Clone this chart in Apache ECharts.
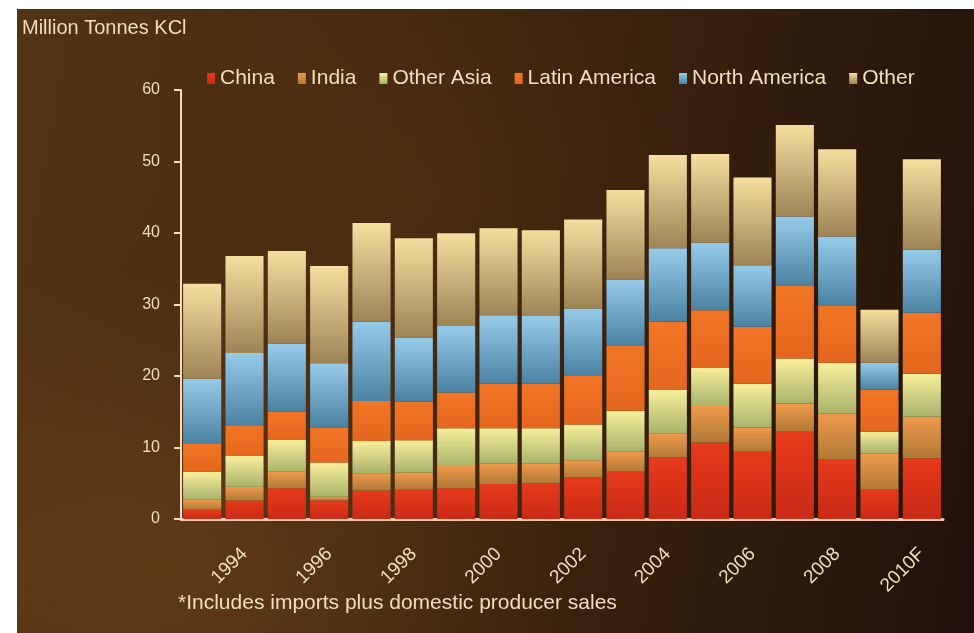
<!DOCTYPE html>
<html><head><meta charset="utf-8">
<script src="https://cdn.jsdelivr.net/npm/echarts@6/dist/echarts.min.js"></script>
<style>
html,body{margin:0;padding:0;background:#ffffff;width:974px;height:633px;overflow:hidden;}
#bg{position:absolute;left:17px;top:9px;width:957px;height:624px;
background:
 radial-gradient(ellipse 420px 300px at 15% 90%, rgba(110,70,28,0.55), rgba(110,70,28,0) 100%),
 radial-gradient(ellipse 300px 220px at 40% 30%, rgba(90,55,22,0.35), rgba(90,55,22,0) 100%),
 linear-gradient(100deg, #533315 0%, #472a11 35%, #36200d 65%, #21110a 100%);}
#chart{position:absolute;left:0;top:0;width:974px;height:633px;}
</style></head><body>
<div id="bg"></div><div id="chart"></div>
<script>
const categories = ['1993','1994','1995','1996','1997','1998','1999','2000','2001','2002','2003','2004','2005','2006','2007','2008','2009','2010F'];
const china      = [1.3, 2.6, 4.3, 2.6, 4.0, 4.1, 4.3, 4.9, 5.0, 5.8, 6.6, 8.6, 10.7, 9.4, 12.2, 8.4, 4.1, 8.5];
const india      = [1.4, 1.9, 2.3, 0.5, 2.4, 2.4, 3.25, 2.9, 2.8, 2.4, 2.8, 3.4, 5.1, 3.4, 3.95, 6.4, 5.1, 5.8];
const otherAsia  = [3.9, 4.3, 4.45, 4.8, 4.5, 4.5, 5.15, 4.9, 4.9, 5.0, 5.75, 6.05, 5.4, 6.1, 6.3, 7.05, 3.0, 6.0];
const latinAm    = [4.0, 4.3, 3.95, 4.9, 5.6, 5.4, 5.0, 6.2, 6.2, 6.9, 9.05, 9.55, 8.0, 8.0, 10.25, 8.05, 5.9, 8.55];
const northAm    = [9.0, 10.1, 9.5, 9.0, 11.1, 9.0, 9.3, 9.6, 9.5, 9.35, 9.3, 10.25, 9.45, 8.6, 9.6, 9.6, 3.75, 8.85];
const other      = [13.3, 13.6, 13.0, 13.6, 13.8, 13.85, 12.95, 12.15, 12.0, 12.45, 12.5, 13.05, 12.4, 12.25, 12.8, 12.2, 7.4, 12.6];
const yTicks = { min: 0, max: 60, interval: 10 };

const FONT = 'Liberation Sans, Arial, sans-serif';
const TXT = '#f1dfbd';
function grad(top, bottom) {
  return new echarts.graphic.LinearGradient(0, 0, 0, 1, [
    { offset: 0, color: top }, { offset: 1, color: bottom }
  ]);
}
const seriesDefs = [
  { name: 'China', data: china, color: grad('#e63a1c', '#c92a16') },
  { name: 'India', data: india, color: grad('#f09a4a', '#b07a38') },
  { name: 'Other Asia', data: otherAsia, color: grad('#f8ef9c', '#a9b36c') },
  { name: 'Latin America', data: latinAm, color: grad('#f27626', '#e5661d') },
  { name: 'North America', data: northAm, color: grad('#97cbea', '#4b82a2') },
  { name: 'Other', data: other, color: grad('#f4df9e', '#9d8456') }
];

const chart = echarts.init(document.getElementById('chart'), null, { renderer: 'canvas' });
chart.setOption({
  backgroundColor: 'transparent',
  animation: false,
  grid: { left: 181, right: 31, top: 90, bottom: 114 },
  legend: {
    left: 202, top: 63,
    itemWidth: 8, itemHeight: 11, itemGap: 23,
    icon: 'rect',
    textStyle: { color: TXT, fontSize: 21, fontFamily: FONT },
    data: seriesDefs.map(s => s.name)
  },
  graphic: [
    { type: 'text', left: 22, top: 18, style: { text: 'Million Tonnes KCl', fill: TXT, fontSize: 20, fontFamily: FONT } },
    { type: 'text', left: 178, top: 593, style: { text: '*Includes imports plus domestic producer sales', fill: TXT, fontSize: 21, fontFamily: FONT } }
  ],
  xAxis: {
    type: 'category',
    data: categories,
    axisLine: { lineStyle: { color: '#f5c9aa', width: 3 } },
    axisTick: { show: false },
    axisLabel: {
      interval: (i) => i % 2 === 1,
      rotate: 45, margin: 32,
      color: TXT, fontSize: 19, fontFamily: FONT
    }
  },
  yAxis: {
    type: 'value',
    min: yTicks.min, max: yTicks.max, interval: yTicks.interval,
    splitLine: { show: false },
    axisLine: { show: true, lineStyle: { color: '#f3dcc0', width: 2 } },
    axisTick: { show: true, length: 7, lineStyle: { color: '#f3dcc0', width: 2 } },
    axisLabel: { color: TXT, fontSize: 16, fontFamily: FONT, margin: 21 }
  },
  series: seriesDefs.map(s => ({
    name: s.name, type: 'bar', stack: 'total', data: s.data,
    barCategoryGap: '10%',
    itemStyle: { color: s.color }
  }))
});
</script>
</body></html>
